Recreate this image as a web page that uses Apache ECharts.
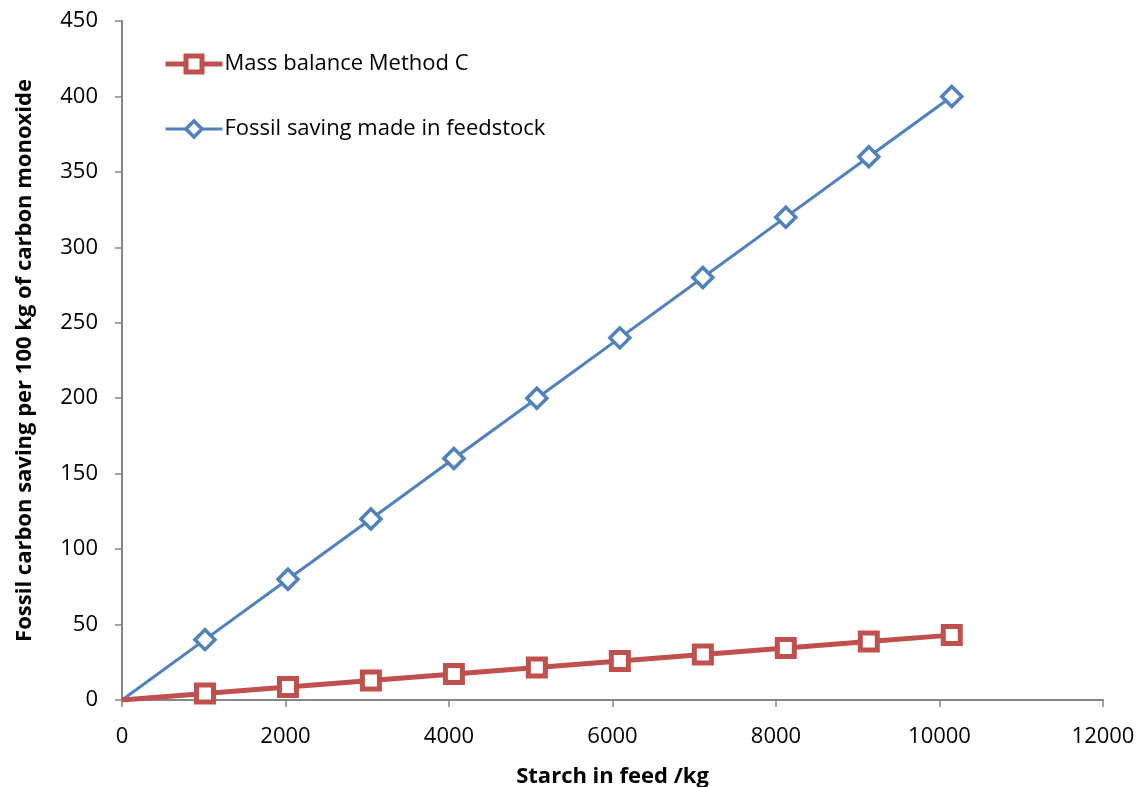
<!DOCTYPE html>
<html><head><meta charset="utf-8">
<script src="https://cdn.jsdelivr.net/npm/echarts@6/dist/echarts.min.js"></script>
<style>html,body{margin:0;padding:0;background:#fff}#c{width:1141px;height:787px}</style>
</head><body><div id="c"></div>
<script>
const starch = [0, 1015, 2030, 3045, 4060, 5075, 6090, 7105, 8120, 9135, 10150];
const massBalance = [0, 4.3, 8.6, 12.9, 17.2, 21.5, 25.8, 30.1, 34.4, 38.7, 43.0];
const fossilSaving = [0, 40, 80, 120, 160, 200, 240, 280, 320, 360, 400];
const seriesNames = ['Mass balance Method C', 'Fossil saving made in feedstock'];
const xTitle = 'Starch in feed /kg';
const yTitle = 'Fossil carbon saving per 100 kg of carbon monoxide';

const pairs = (xs, ys) => xs.map((x, i) => i === 0 ? {value: [x, ys[i]], symbol: 'none'} : [x, ys[i]]);
const font = '"Open Sans", sans-serif';
const axisGrey = '#868686';
const red = '#C0504D', blue = '#4F81BD';
const chart = echarts.init(document.getElementById('c'));
chart.setOption({
  animation: false,
  textStyle: {fontFamily: font},
  grid: {left: 122, right: 38, top: 21, bottom: 87, containLabel: false, outerBoundsMode: 'none'},
  legend: {
    left: 158, top: 48, orient: 'vertical', itemGap: 43,
    itemWidth: 57, itemHeight: 20,
    textStyle: {fontSize: 22, color: '#000', fontFamily: font, padding: [0, 0, 0, -3]},
    data: [
      {name: seriesNames[0], lineStyle: {color: red, width: 5}, itemStyle: {color: '#fff', borderColor: red, borderWidth: 5}},
      {name: seriesNames[1], lineStyle: {color: blue, width: 3}, itemStyle: {color: '#fff', borderColor: blue, borderWidth: 3.5}}
    ]
  },
  xAxis: {
    type: 'value', min: 0, max: 12000, interval: 2000,
    name: xTitle, nameLocation: 'middle', nameGap: 66,
    nameTextStyle: {fontSize: 22, fontWeight: 'bold', color: '#000', fontFamily: font},
    axisLine: {lineStyle: {color: axisGrey, width: 2}},
    axisTick: {show: true, length: 7, lineStyle: {color: axisGrey, width: 1.5}},
    axisLabel: {fontSize: 22, color: '#000', margin: 26, fontFamily: font, formatter: v => String(v)},
    splitLine: {show: false}
  },
  yAxis: {
    type: 'value', min: 0, max: 450, interval: 50,
    name: yTitle, nameLocation: 'middle', nameGap: 86, nameRotate: 90,
    nameTextStyle: {fontSize: 22, fontWeight: 'bold', color: '#000', fontFamily: font},
    axisLine: {show: true, lineStyle: {color: axisGrey, width: 2}},
    axisTick: {show: true, length: 7, lineStyle: {color: axisGrey, width: 1.5}},
    axisLabel: {fontSize: 22, color: '#000', margin: 24, fontFamily: font},
    splitLine: {show: false}
  },
  series: [
    {
      name: seriesNames[0], type: 'line', data: pairs(starch, massBalance),
      symbol: 'rect', symbolSize: 17, showAllSymbol: true,
      lineStyle: {color: red, width: 5},
      itemStyle: {color: '#fff', borderColor: red, borderWidth: 5},
      z: 3
    },
    {
      name: seriesNames[1], type: 'line', data: pairs(starch, fossilSaving),
      symbol: 'diamond', symbolSize: 20, showAllSymbol: true,
      lineStyle: {color: blue, width: 3},
      itemStyle: {color: '#fff', borderColor: blue, borderWidth: 3.5},
      z: 2
    }
  ]
});
</script></body></html>
